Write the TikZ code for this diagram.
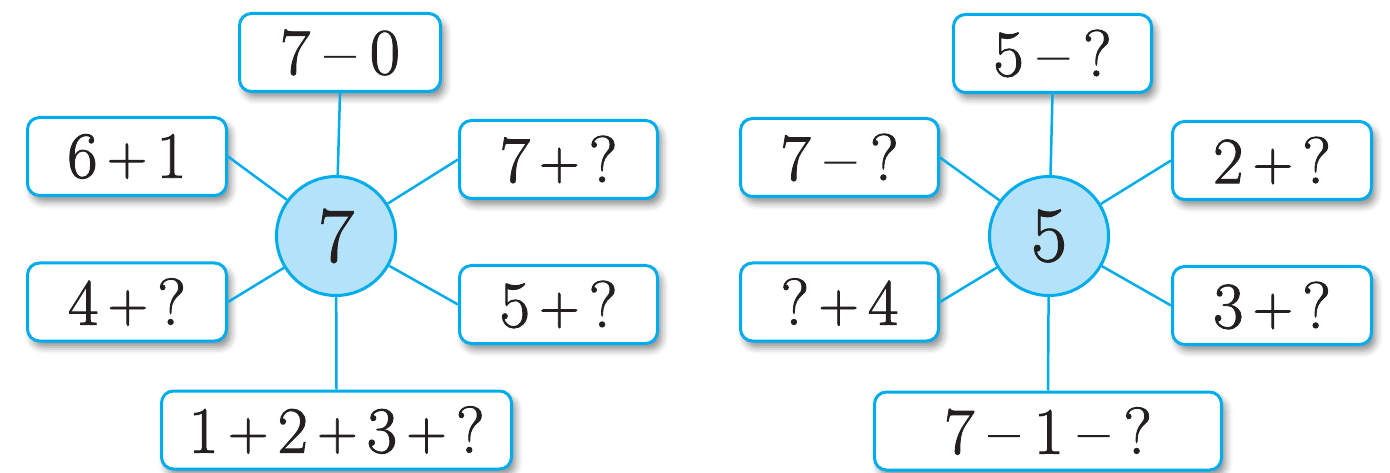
\documentclass[tikz,border=0pt]{standalone}
\usepackage{fontspec}
\usepackage{graphicx}
\setmainfont{Latin Modern Roman}
\newfontfamily\eqfont{Latin Modern Roman}[FakeBold=1.3]
\usetikzlibrary{shadows.blur}
\definecolor{cyanline}{RGB}{0,172,236}
\definecolor{cyanfill}{RGB}{180,226,248}
\definecolor{inkblack}{RGB}{35,31,32}
\tikzset{
  eqbox/.style={draw=cyanline, line width=3pt, fill=white, rounded corners=12pt,
    minimum height=78pt, inner sep=0pt, text=inkblack,
    font=\eqfont\fontsize{66}{70}\selectfont,
    blur shadow={shadow xshift=4pt, shadow yshift=-6pt, shadow blur radius=7pt, shadow opacity=45}},
  hub/.style={circle, draw=cyanline, line width=3pt, fill=cyanfill, minimum size=119pt,
    inner sep=0pt, text=inkblack, font=\eqfont\fontsize{78}{80}\selectfont},
  link/.style={draw=cyanline, line width=2.5pt}
}
\newcommand{\pl}{\hspace{0.14em}\raisebox{0.04em}{\scalebox{0.85}{+}}\hspace{0.14em}}
\newcommand{\mi}{\hspace{0.22em}–\hspace{0.22em}}
\begin{document}
\begin{tikzpicture}[x=1pt,y=-1pt]
\useasboundingbox (0,0) rectangle (1390,473);
% left diagram
\node[hub] (c1) at (336,236) {7};
\node[eqbox, minimum width=201pt] (t1) at (340,52.5) {7\mi0};
\node[eqbox, minimum width=199pt] (l1) at (127,156.5) {6\pl1};
\node[eqbox, minimum width=198pt] (r1) at (558.5,159.5) {7\pl?};
\node[eqbox, minimum width=199pt] (l2) at (127,302) {4\pl?};
\node[eqbox, minimum width=198pt] (r2) at (558.5,304.5) {5\pl?};
\node[eqbox, minimum width=350pt] (b1) at (336.5,430) {1\pl2\pl3\pl?};
\draw[link] (c1) -- (t1.south);
\draw[link] (c1) -- (l1.east);
\draw[link] (c1) -- (r1.west);
\draw[link] (c1) -- (l2.east);
\draw[link] (c1) -- (r2.west);
\draw[link] (c1) -- (b1.north);
% right diagram
\node[hub] (c2) at (1049,236) {5};
\node[eqbox, minimum width=198pt] (t2) at (1052.5,53.5) {5\mi?};
\node[eqbox, minimum width=198pt] (l3) at (839.5,157.5) {7\mi?};
\node[eqbox, minimum width=199pt] (r3) at (1272,160.5) {2\pl?};
\node[eqbox, minimum width=198pt] (l4) at (839.5,302) {?\pl4};
\node[eqbox, minimum width=199pt] (r4) at (1272,305.5) {3\pl?};
\node[eqbox, minimum width=347pt] (b2) at (1048,431) {7\mi1\mi?};
\draw[link] (c2) -- (t2.south);
\draw[link] (c2) -- (l3.east);
\draw[link] (c2) -- (r3.west);
\draw[link] (c2) -- (l4.east);
\draw[link] (c2) -- (r4.west);
\draw[link] (c2) -- (b2.north);
\end{tikzpicture}
\end{document}
